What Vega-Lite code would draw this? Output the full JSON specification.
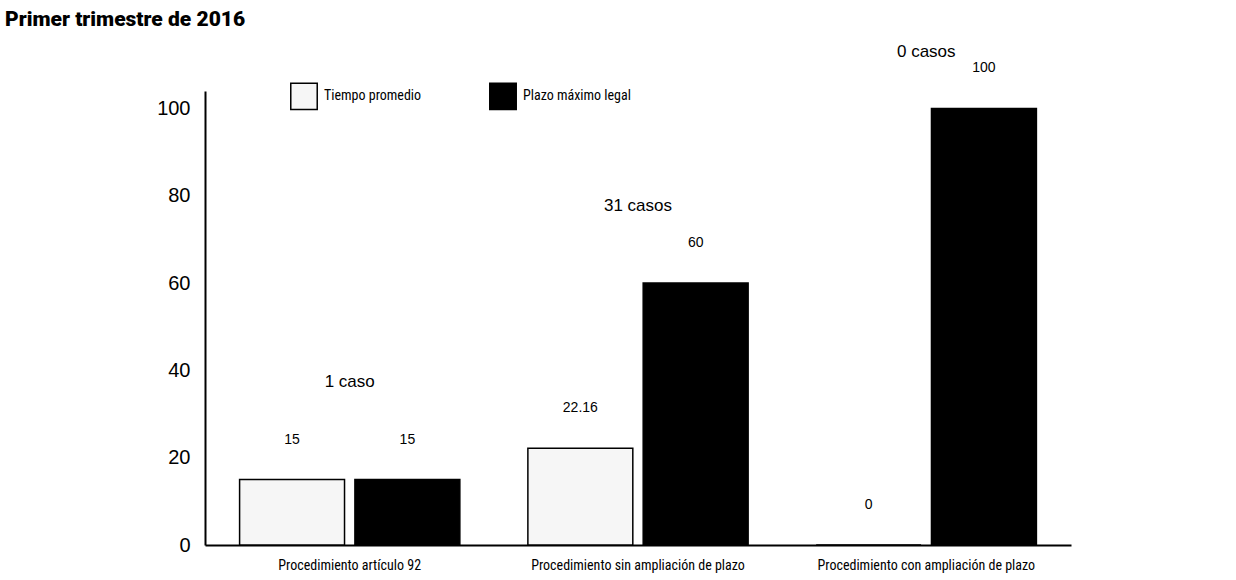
{
  "$schema": "https://vega.github.io/schema/vega-lite/v6.json",
  "autosize": {"type": "none"},
  "width": 866,
  "height": 454,
  "padding": {"left": 205, "top": 91, "right": 165, "bottom": 35},
  "background": "white",
  "title": {
    "text": "Primer trimestre de 2016",
    "anchor": "start",
    "frame": "group",
    "dx": -200,
    "offset": 13,
    "font": "Roboto",
    "fontWeight": 900,
    "fontSize": 21,
    "color": "#000000"
  },
  "config": {
    "view": {"stroke": null},
    "axis": {"grid": false}
  },
  "datasets": {
    "barras": [
      {"procedimiento": "Procedimiento artículo 92", "serie": "Tiempo promedio", "dias": 15},
      {"procedimiento": "Procedimiento artículo 92", "serie": "Plazo máximo legal", "dias": 15},
      {"procedimiento": "Procedimiento sin ampliación de plazo", "serie": "Tiempo promedio", "dias": 22.16},
      {"procedimiento": "Procedimiento sin ampliación de plazo", "serie": "Plazo máximo legal", "dias": 60},
      {"procedimiento": "Procedimiento con ampliación de plazo", "serie": "Tiempo promedio", "dias": 0},
      {"procedimiento": "Procedimiento con ampliación de plazo", "serie": "Plazo máximo legal", "dias": 100}
    ],
    "casos": [
      {"procedimiento": "Procedimiento artículo 92", "casos": "1 caso", "altura": 37.4},
      {"procedimiento": "Procedimiento sin ampliación de plazo", "casos": "31 casos", "altura": 77.6},
      {"procedimiento": "Procedimiento con ampliación de plazo", "casos": "0 casos", "altura": 113}
    ]
  },
  "layer": [
    {
      "data": {"name": "barras"},
      "mark": {"type": "bar", "stroke": "#000000", "strokeWidth": 1.5},
      "encoding": {
        "x": {
          "field": "procedimiento",
          "type": "nominal",
          "sort": null,
          "scale": {"paddingInner": 0.236, "paddingOuter": 0.12},
          "axis": {
            "title": null,
            "labelAngle": 0,
            "ticks": false,
            "labelPadding": 13,
            "labelFontSize": 14,
            "labelFont": "Roboto Condensed, Liberation Sans Narrow, DejaVu Sans Condensed, sans-serif",
            "labelColor": "#000000",
            "labelLimit": 400,
            "domainColor": "#000000",
            "domainWidth": 2
          }
        },
        "xOffset": {
          "field": "serie",
          "type": "nominal",
          "sort": ["Tiempo promedio", "Plazo máximo legal"],
          "scale": {"paddingInner": 0.09}
        },
        "y": {
          "field": "dias",
          "type": "quantitative",
          "scale": {"domain": [0, 104], "nice": false},
          "axis": {
            "title": null,
            "values": [0, 20, 40, 60, 80, 100],
            "ticks": false,
            "labelPadding": 15,
            "labelFontSize": 20,
            "labelFont": "Liberation Sans",
            "labelColor": "#000000",
            "domainColor": "#000000",
            "domainWidth": 2
          }
        },
        "color": {
          "field": "serie",
          "type": "nominal",
          "sort": ["Tiempo promedio", "Plazo máximo legal"],
          "scale": {"domain": ["Tiempo promedio", "Plazo máximo legal"], "range": ["#f6f6f6", "#000000"]},
          "legend": {
            "title": null,
            "orient": "none",
            "legendX": 85,
            "legendY": -9,
            "direction": "horizontal",
            "symbolType": "square",
            "symbolSize": 700,
            "symbolStrokeColor": "#000000",
            "symbolStrokeWidth": 1.5,
            "labelFontSize": 14,
            "labelFont": "Roboto Condensed, Liberation Sans Narrow, DejaVu Sans Condensed, sans-serif",
            "labelColor": "#000000",
            "labelOffset": 6,
            "columnPadding": 64
          }
        }
      }
    },
    {
      "data": {"name": "barras"},
      "mark": {"type": "text", "dy": -40, "fontSize": 14, "font": "Liberation Sans", "color": "#000000"},
      "encoding": {
        "x": {"field": "procedimiento", "type": "nominal", "sort": null},
        "xOffset": {"field": "serie", "type": "nominal", "sort": ["Tiempo promedio", "Plazo máximo legal"]},
        "y": {"field": "dias", "type": "quantitative"},
        "text": {"field": "dias", "type": "quantitative"}
      }
    },
    {
      "data": {"name": "casos"},
      "mark": {"type": "text", "fontSize": 17, "font": "Liberation Sans", "color": "#000000"},
      "encoding": {
        "x": {"field": "procedimiento", "type": "nominal", "sort": null},
        "y": {"field": "altura", "type": "quantitative"},
        "text": {"field": "casos", "type": "nominal"}
      }
    }
  ]
}
